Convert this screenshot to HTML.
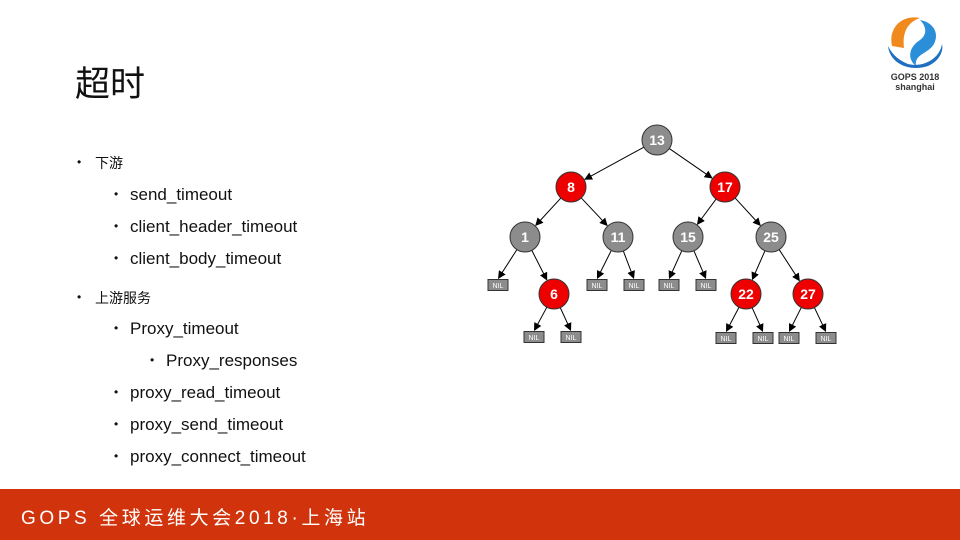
<!DOCTYPE html>
<html><head><meta charset="utf-8"><style>
body{margin:0;width:960px;height:540px;position:relative;background:#fff;overflow:hidden;font-family:"Liberation Sans","Noto Sans CJK SC",sans-serif;color:#111}
.t{position:absolute;white-space:nowrap}
.b{position:absolute;font-size:12px}
#foot{position:absolute;left:0;top:489px;width:960px;height:51px;background:#d1340c}
</style></head><body>
<div class="t" style="left:75px;top:56px;font-size:35px">超时</div>
<div class="b" style="left:77px;top:155px">•</div><div class="t" style="left:95px;top:153px;font-size:14px">下游</div>
<div class="b" style="left:114px;top:187px">•</div><div class="t" style="left:130px;top:185px;font-size:17px">send_timeout</div>
<div class="b" style="left:114px;top:219px">•</div><div class="t" style="left:130px;top:217px;font-size:17px">client_header_timeout</div>
<div class="b" style="left:114px;top:251px">•</div><div class="t" style="left:130px;top:249px;font-size:17px">client_body_timeout</div>
<div class="b" style="left:77px;top:290px">•</div><div class="t" style="left:95px;top:288px;font-size:14px">上游服务</div>
<div class="b" style="left:114px;top:321px">•</div><div class="t" style="left:130px;top:319px;font-size:17px">Proxy_timeout</div>
<div class="b" style="left:150px;top:353px">•</div><div class="t" style="left:166px;top:351px;font-size:17px">Proxy_responses</div>
<div class="b" style="left:114px;top:385px">•</div><div class="t" style="left:130px;top:383px;font-size:17px">proxy_read_timeout</div>
<div class="b" style="left:114px;top:417px">•</div><div class="t" style="left:130px;top:415px;font-size:17px">proxy_send_timeout</div>
<div class="b" style="left:114px;top:449px">•</div><div class="t" style="left:130px;top:447px;font-size:17px">proxy_connect_timeout</div>

<svg style="position:absolute;left:880px;top:8px" width="70" height="85" viewBox="0 0 70 85">
<path d="M12 38 C8 20 22 6 40 10 C28 14 22 24 24 40 Z" fill="#f08a1c"/>
<path d="M40 12 C52 14 60 24 54 36 C48 46 34 46 36 58 C26 50 30 38 40 32 C48 26 46 18 40 12Z" fill="#2a8fd8"/>
<path d="M8 38 C10 56 30 64 48 58 C58 54 64 44 62 36 C60 50 44 60 28 56 C18 52 12 46 8 38Z" fill="#1f6fc0"/>
<text x="35" y="72" font-size="9" font-weight="bold" text-anchor="middle" fill="#333" font-family="Liberation Sans">GOPS 2018</text>
<text x="35" y="82" font-size="9" font-weight="bold" text-anchor="middle" fill="#333" font-family="Liberation Sans">shanghai</text>
</svg>

<svg id="tree" style="position:absolute;left:0;top:0" width="960" height="540"></svg>

<div id="foot"><div class="t" style="left:21px;top:14px;font-size:19px;color:#fff;letter-spacing:3.6px">GOPS 全球运维大会2018·上海站</div></div>

<script>
var N={13:[657,140,0],8:[571,187,1],17:[725,187,1],1:[525,237,0],11:[618,237,0],15:[688,237,0],25:[771,237,0],6:[554,294,1],22:[746,294,1],27:[808,294,1]};
var nil=[[498,285,1],[597,285,11],[634,285,11],[669,285,15],[706,285,15],[534,337,6],[571,337,6],[726,338,22],[763,338,22],[789,338,27],[826,338,27]];
var E=[[13,8],[13,17],[8,1],[8,11],[17,15],[17,25],[1,6],[25,22],[25,27]];
var r=15,s='<defs><marker id="a" markerWidth="8" markerHeight="8" refX="7" refY="4" orient="auto" markerUnits="userSpaceOnUse"><path d="M0,0 L8,4 L0,8 Z" fill="#000"/></marker></defs>';
function line(x1,y1,x2,y2,end){var dx=x2-x1,dy=y2-y1,l=Math.hypot(dx,dy);var sx=x1+dx/l*r,sy=y1+dy/l*r,ex=x2-dx/l*end,ey=y2-dy/l*end;s+='<line x1="'+sx+'" y1="'+sy+'" x2="'+ex+'" y2="'+ey+'" stroke="#000" stroke-width="1" marker-end="url(#a)"/>';}
E.forEach(function(e){var p=N[e[0]],c=N[e[1]];line(p[0],p[1],c[0],c[1],r+1);});
nil.forEach(function(n){var p=N[n[2]];line(p[0],p[1],n[0],n[1]-6,1);});
for(var k in N){var n=N[k];s+='<circle cx="'+n[0]+'" cy="'+n[1]+'" r="'+r+'" fill="'+(n[2]?'#ee0000':'#8c8c8c')+'" stroke="#333" stroke-width="1"/><text x="'+n[0]+'" y="'+(n[1]+5)+'" text-anchor="middle" font-size="14" font-weight="bold" fill="#fff" font-family="Liberation Sans">'+k+'</text>';}
nil.forEach(function(n){s+='<rect x="'+(n[0]-10)+'" y="'+(n[1]-5.5)+'" width="20" height="11" fill="#8c8c8c" stroke="#333" stroke-width="1"/><text x="'+n[0]+'" y="'+(n[1]+3)+'" text-anchor="middle" font-size="7" fill="#fff" font-family="Liberation Sans">NIL</text>';});
document.getElementById('tree').innerHTML=s;
</script>
</body></html>
